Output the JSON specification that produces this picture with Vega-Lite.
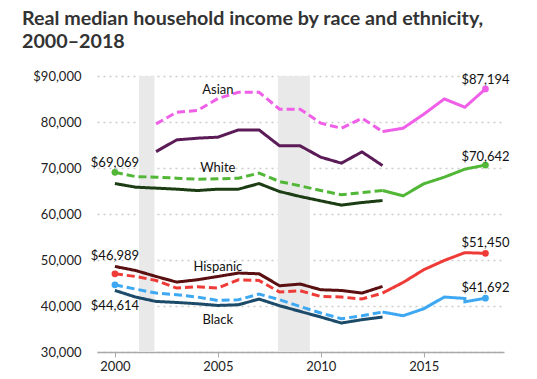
{
  "$schema": "https://vega.github.io/schema/vega-lite/v6.json",
  "width": 407,
  "height": 276,
  "autosize": "none",
  "padding": {"left": 97, "top": 76, "right": 33, "bottom": 27},
  "background": "white",
  "title": {
    "text": ["Real median household income by race and ethnicity,", "2000–2018"],
    "anchor": "start",
    "frame": "group",
    "dx": -75,
    "offset": 18,
    "font": "Lato",
    "fontSize": 19.7,
    "fontWeight": "bold",
    "color": "#333333",
    "lineHeight": 23
  },
  "config": {
    "view": {"stroke": null},
    "font": "Lato",
    "axis": {"labelFont": "Lato", "labelFontSize": 13, "labelColor": "#222222"}
  },
  "datasets": {
    "lines": [
      {"g": "Asian old", "c": "Asian dark", "d": "solid", "year": 2002, "value": 73570},
      {"g": "Asian old", "c": "Asian dark", "d": "solid", "year": 2003, "value": 76110},
      {"g": "Asian old", "c": "Asian dark", "d": "solid", "year": 2004, "value": 76480},
      {"g": "Asian old", "c": "Asian dark", "d": "solid", "year": 2005, "value": 76700},
      {"g": "Asian old", "c": "Asian dark", "d": "solid", "year": 2006, "value": 78280},
      {"g": "Asian old", "c": "Asian dark", "d": "solid", "year": 2007, "value": 78280},
      {"g": "Asian old", "c": "Asian dark", "d": "solid", "year": 2008, "value": 74810},
      {"g": "Asian old", "c": "Asian dark", "d": "solid", "year": 2009, "value": 74810},
      {"g": "Asian old", "c": "Asian dark", "d": "solid", "year": 2010, "value": 72350},
      {"g": "Asian old", "c": "Asian dark", "d": "solid", "year": 2011, "value": 71050},
      {"g": "Asian old", "c": "Asian dark", "d": "solid", "year": 2012, "value": 73500},
      {"g": "Asian old", "c": "Asian dark", "d": "solid", "year": 2013, "value": 70530},
      {"g": "Asian adj", "c": "Asian bright", "d": "dashed", "year": 2002, "value": 79590},
      {"g": "Asian adj", "c": "Asian bright", "d": "dashed", "year": 2003, "value": 82130},
      {"g": "Asian adj", "c": "Asian bright", "d": "dashed", "year": 2004, "value": 82480},
      {"g": "Asian adj", "c": "Asian bright", "d": "dashed", "year": 2005, "value": 85100},
      {"g": "Asian adj", "c": "Asian bright", "d": "dashed", "year": 2006, "value": 86470},
      {"g": "Asian adj", "c": "Asian bright", "d": "dashed", "year": 2007, "value": 86470},
      {"g": "Asian adj", "c": "Asian bright", "d": "dashed", "year": 2008, "value": 82780},
      {"g": "Asian adj", "c": "Asian bright", "d": "dashed", "year": 2009, "value": 82780},
      {"g": "Asian adj", "c": "Asian bright", "d": "dashed", "year": 2010, "value": 79740},
      {"g": "Asian adj", "c": "Asian bright", "d": "dashed", "year": 2011, "value": 78650},
      {"g": "Asian adj", "c": "Asian bright", "d": "dashed", "year": 2012, "value": 80830},
      {"g": "Asian adj", "c": "Asian bright", "d": "dashed", "year": 2013, "value": 77920},
      {"g": "Asian new", "c": "Asian bright", "d": "solid", "year": 2013, "value": 77920},
      {"g": "Asian new", "c": "Asian bright", "d": "solid", "year": 2014, "value": 78650},
      {"g": "Asian new", "c": "Asian bright", "d": "solid", "year": 2015, "value": 81690},
      {"g": "Asian new", "c": "Asian bright", "d": "solid", "year": 2016, "value": 85020},
      {"g": "Asian new", "c": "Asian bright", "d": "solid", "year": 2017, "value": 83210},
      {"g": "Asian new", "c": "Asian bright", "d": "solid", "year": 2018, "value": 87194},

      {"g": "White old", "c": "White dark", "d": "solid", "year": 2000, "value": 66620},
      {"g": "White old", "c": "White dark", "d": "solid", "year": 2001, "value": 65840},
      {"g": "White old", "c": "White dark", "d": "solid", "year": 2002, "value": 65620},
      {"g": "White old", "c": "White dark", "d": "solid", "year": 2003, "value": 65400},
      {"g": "White old", "c": "White dark", "d": "solid", "year": 2004, "value": 65100},
      {"g": "White old", "c": "White dark", "d": "solid", "year": 2005, "value": 65400},
      {"g": "White old", "c": "White dark", "d": "solid", "year": 2006, "value": 65400},
      {"g": "White old", "c": "White dark", "d": "solid", "year": 2007, "value": 66620},
      {"g": "White old", "c": "White dark", "d": "solid", "year": 2008, "value": 64880},
      {"g": "White old", "c": "White dark", "d": "solid", "year": 2009, "value": 63800},
      {"g": "White old", "c": "White dark", "d": "solid", "year": 2010, "value": 62860},
      {"g": "White old", "c": "White dark", "d": "solid", "year": 2011, "value": 61930},
      {"g": "White old", "c": "White dark", "d": "solid", "year": 2012, "value": 62490},
      {"g": "White old", "c": "White dark", "d": "solid", "year": 2013, "value": 62930},
      {"g": "White adj", "c": "White bright", "d": "dashed", "year": 2000, "value": 69069},
      {"g": "White adj", "c": "White bright", "d": "dashed", "year": 2001, "value": 68140},
      {"g": "White adj", "c": "White bright", "d": "dashed", "year": 2002, "value": 68010},
      {"g": "White adj", "c": "White bright", "d": "dashed", "year": 2003, "value": 67790},
      {"g": "White adj", "c": "White bright", "d": "dashed", "year": 2004, "value": 67570},
      {"g": "White adj", "c": "White bright", "d": "dashed", "year": 2005, "value": 67650},
      {"g": "White adj", "c": "White bright", "d": "dashed", "year": 2006, "value": 67790},
      {"g": "White adj", "c": "White bright", "d": "dashed", "year": 2007, "value": 68880},
      {"g": "White adj", "c": "White bright", "d": "dashed", "year": 2008, "value": 67050},
      {"g": "White adj", "c": "White bright", "d": "dashed", "year": 2009, "value": 66120},
      {"g": "White adj", "c": "White bright", "d": "dashed", "year": 2010, "value": 65100},
      {"g": "White adj", "c": "White bright", "d": "dashed", "year": 2011, "value": 64170},
      {"g": "White adj", "c": "White bright", "d": "dashed", "year": 2012, "value": 64670},
      {"g": "White adj", "c": "White bright", "d": "dashed", "year": 2013, "value": 65100},
      {"g": "White new", "c": "White bright", "d": "solid", "year": 2013, "value": 65100},
      {"g": "White new", "c": "White bright", "d": "solid", "year": 2014, "value": 63950},
      {"g": "White new", "c": "White bright", "d": "solid", "year": 2015, "value": 66560},
      {"g": "White new", "c": "White bright", "d": "solid", "year": 2016, "value": 68010},
      {"g": "White new", "c": "White bright", "d": "solid", "year": 2017, "value": 69750},
      {"g": "White new", "c": "White bright", "d": "solid", "year": 2018, "value": 70642},

      {"g": "Hispanic old", "c": "Hispanic dark", "d": "solid", "year": 2000, "value": 48600},
      {"g": "Hispanic old", "c": "Hispanic dark", "d": "solid", "year": 2001, "value": 47720},
      {"g": "Hispanic old", "c": "Hispanic dark", "d": "solid", "year": 2002, "value": 46420},
      {"g": "Hispanic old", "c": "Hispanic dark", "d": "solid", "year": 2003, "value": 45200},
      {"g": "Hispanic old", "c": "Hispanic dark", "d": "solid", "year": 2004, "value": 45700},
      {"g": "Hispanic old", "c": "Hispanic dark", "d": "solid", "year": 2005, "value": 46420},
      {"g": "Hispanic old", "c": "Hispanic dark", "d": "solid", "year": 2006, "value": 47160},
      {"g": "Hispanic old", "c": "Hispanic dark", "d": "solid", "year": 2007, "value": 47010},
      {"g": "Hispanic old", "c": "Hispanic dark", "d": "solid", "year": 2008, "value": 44400},
      {"g": "Hispanic old", "c": "Hispanic dark", "d": "solid", "year": 2009, "value": 44770},
      {"g": "Hispanic old", "c": "Hispanic dark", "d": "solid", "year": 2010, "value": 43530},
      {"g": "Hispanic old", "c": "Hispanic dark", "d": "solid", "year": 2011, "value": 43380},
      {"g": "Hispanic old", "c": "Hispanic dark", "d": "solid", "year": 2012, "value": 42810},
      {"g": "Hispanic old", "c": "Hispanic dark", "d": "solid", "year": 2013, "value": 44250},
      {"g": "Hispanic adj", "c": "Hispanic bright", "d": "dashed", "year": 2000, "value": 46989},
      {"g": "Hispanic adj", "c": "Hispanic bright", "d": "dashed", "year": 2001, "value": 46420},
      {"g": "Hispanic adj", "c": "Hispanic bright", "d": "dashed", "year": 2002, "value": 45550},
      {"g": "Hispanic adj", "c": "Hispanic bright", "d": "dashed", "year": 2003, "value": 43900},
      {"g": "Hispanic adj", "c": "Hispanic bright", "d": "dashed", "year": 2004, "value": 44200},
      {"g": "Hispanic adj", "c": "Hispanic bright", "d": "dashed", "year": 2005, "value": 43900},
      {"g": "Hispanic adj", "c": "Hispanic bright", "d": "dashed", "year": 2006, "value": 45700},
      {"g": "Hispanic adj", "c": "Hispanic bright", "d": "dashed", "year": 2007, "value": 45550},
      {"g": "Hispanic adj", "c": "Hispanic bright", "d": "dashed", "year": 2008, "value": 43030},
      {"g": "Hispanic adj", "c": "Hispanic bright", "d": "dashed", "year": 2009, "value": 43310},
      {"g": "Hispanic adj", "c": "Hispanic bright", "d": "dashed", "year": 2010, "value": 42080},
      {"g": "Hispanic adj", "c": "Hispanic bright", "d": "dashed", "year": 2011, "value": 41950},
      {"g": "Hispanic adj", "c": "Hispanic bright", "d": "dashed", "year": 2012, "value": 41510},
      {"g": "Hispanic adj", "c": "Hispanic bright", "d": "dashed", "year": 2013, "value": 42810},
      {"g": "Hispanic new", "c": "Hispanic bright", "d": "solid", "year": 2013, "value": 42810},
      {"g": "Hispanic new", "c": "Hispanic bright", "d": "solid", "year": 2014, "value": 45120},
      {"g": "Hispanic new", "c": "Hispanic bright", "d": "solid", "year": 2015, "value": 47880},
      {"g": "Hispanic new", "c": "Hispanic bright", "d": "solid", "year": 2016, "value": 49900},
      {"g": "Hispanic new", "c": "Hispanic bright", "d": "solid", "year": 2017, "value": 51600},
      {"g": "Hispanic new", "c": "Hispanic bright", "d": "solid", "year": 2018, "value": 51450},

      {"g": "Black old", "c": "Black dark", "d": "solid", "year": 2000, "value": 43380},
      {"g": "Black old", "c": "Black dark", "d": "solid", "year": 2001, "value": 41950},
      {"g": "Black old", "c": "Black dark", "d": "solid", "year": 2002, "value": 40990},
      {"g": "Black old", "c": "Black dark", "d": "solid", "year": 2003, "value": 40770},
      {"g": "Black old", "c": "Black dark", "d": "solid", "year": 2004, "value": 40490},
      {"g": "Black old", "c": "Black dark", "d": "solid", "year": 2005, "value": 40120},
      {"g": "Black old", "c": "Black dark", "d": "solid", "year": 2006, "value": 40270},
      {"g": "Black old", "c": "Black dark", "d": "solid", "year": 2007, "value": 41510},
      {"g": "Black old", "c": "Black dark", "d": "solid", "year": 2008, "value": 40060},
      {"g": "Black old", "c": "Black dark", "d": "solid", "year": 2009, "value": 38820},
      {"g": "Black old", "c": "Black dark", "d": "solid", "year": 2010, "value": 37600},
      {"g": "Black old", "c": "Black dark", "d": "solid", "year": 2011, "value": 36300},
      {"g": "Black old", "c": "Black dark", "d": "solid", "year": 2012, "value": 37020},
      {"g": "Black old", "c": "Black dark", "d": "solid", "year": 2013, "value": 37600},
      {"g": "Black adj", "c": "Black bright", "d": "dashed", "year": 2000, "value": 44614},
      {"g": "Black adj", "c": "Black bright", "d": "dashed", "year": 2001, "value": 43680},
      {"g": "Black adj", "c": "Black bright", "d": "dashed", "year": 2002, "value": 42810},
      {"g": "Black adj", "c": "Black bright", "d": "dashed", "year": 2003, "value": 42450},
      {"g": "Black adj", "c": "Black bright", "d": "dashed", "year": 2004, "value": 41950},
      {"g": "Black adj", "c": "Black bright", "d": "dashed", "year": 2005, "value": 41210},
      {"g": "Black adj", "c": "Black bright", "d": "dashed", "year": 2006, "value": 41360},
      {"g": "Black adj", "c": "Black bright", "d": "dashed", "year": 2007, "value": 42600},
      {"g": "Black adj", "c": "Black bright", "d": "dashed", "year": 2008, "value": 41360},
      {"g": "Black adj", "c": "Black bright", "d": "dashed", "year": 2009, "value": 39900},
      {"g": "Black adj", "c": "Black bright", "d": "dashed", "year": 2010, "value": 38470},
      {"g": "Black adj", "c": "Black bright", "d": "dashed", "year": 2011, "value": 37230},
      {"g": "Black adj", "c": "Black bright", "d": "dashed", "year": 2012, "value": 37880},
      {"g": "Black adj", "c": "Black bright", "d": "dashed", "year": 2013, "value": 38690},
      {"g": "Black new", "c": "Black bright", "d": "solid", "year": 2013, "value": 38690},
      {"g": "Black new", "c": "Black bright", "d": "solid", "year": 2014, "value": 37880},
      {"g": "Black new", "c": "Black bright", "d": "solid", "year": 2015, "value": 39400},
      {"g": "Black new", "c": "Black bright", "d": "solid", "year": 2016, "value": 41950},
      {"g": "Black new", "c": "Black bright", "d": "solid", "year": 2017, "value": 41640},
      {"g": "Black new", "c": "Black bright", "d": "solid", "year": 2017, "value": 40920},
      {"g": "Black new", "c": "Black bright", "d": "solid", "year": 2018, "value": 41692}
    ],
    "dots": [
      {"c": "White bright", "year": 2000, "value": 69069},
      {"c": "Hispanic bright", "year": 2000, "value": 46989},
      {"c": "Black bright", "year": 2000, "value": 44614},
      {"c": "Asian bright", "year": 2018, "value": 87194},
      {"c": "White bright", "year": 2018, "value": 70642},
      {"c": "Hispanic bright", "year": 2018, "value": 51450},
      {"c": "Black bright", "year": 2018, "value": 41692}
    ],
    "recessions": [
      {"start": 2001.17, "end": 2001.92},
      {"start": 2007.92, "end": 2009.47}
    ],
    "labels": [
      {"text": "Asian", "year": 2005, "value": 86970},
      {"text": "White", "year": 2005, "value": 70030},
      {"text": "Hispanic", "year": 2005, "value": 48530},
      {"text": "Black", "year": 2005, "value": 37020},
      {"text": "$69,069", "year": 2000, "value": 71120},
      {"text": "$46,989", "year": 2000, "value": 50920},
      {"text": "$44,614", "year": 2000, "value": 40060},
      {"text": "$87,194", "year": 2018, "value": 89140},
      {"text": "$70,642", "year": 2018, "value": 72420},
      {"text": "$51,450", "year": 2018, "value": 53740},
      {"text": "$41,692", "year": 2018, "value": 43970}
    ]
  },
  "layer": [
    {
      "data": {"name": "recessions"},
      "mark": {"type": "rect", "color": "#e9e9e9"},
      "encoding": {
        "x": {"field": "start", "type": "quantitative", "scale": {"domain": [1999.13, 2018.9], "nice": false, "zero": false},
          "axis": {"values": [2000, 2005, 2010, 2015], "format": "d", "title": null, "grid": false, "domainColor": "#aaaaaa", "domainWidth": 1.5, "tickColor": "#aaaaaa", "tickSize": 5, "labelPadding": 3}},
        "x2": {"field": "end"}
      }
    },
    {
      "data": {"name": "lines"},
      "mark": {"type": "line", "strokeWidth": 3, "strokeCap": "butt"},
      "encoding": {
        "x": {"field": "year", "type": "quantitative"},
        "y": {"field": "value", "type": "quantitative", "scale": {"domain": [30000, 90000], "nice": false, "zero": false},
          "axis": {"values": [30000, 40000, 50000, 60000, 70000, 80000, 90000], "title": null, "domain": false, "ticks": false, "labelPadding": 16,
            "labelExpr": "datum.value == 90000 ? '$90,000' : format(datum.value, ',')",
            "grid": true, "gridDash": [2, 4], "gridColor": "#cccccc", "gridWidth": 1.5}},
        "color": {"field": "c", "type": "nominal", "legend": null,
          "scale": {"domain": ["Asian dark", "Asian bright", "White dark", "White bright", "Hispanic dark", "Hispanic bright", "Black dark", "Black bright"],
            "range": ["#5a1b56", "#ef5fe8", "#1c3d13", "#52b737", "#5a1010", "#ef3b37", "#1c4a69", "#3ea9f2"]}},
        "strokeDash": {"field": "d", "type": "nominal", "legend": null,
          "scale": {"domain": ["solid", "dashed"], "range": [[1, 0], [8, 4]]}},
        "detail": {"field": "g"},
        "order": {"value": null}
      }
    },
    {
      "data": {"name": "dots"},
      "mark": {"type": "circle", "size": 45, "opacity": 1},
      "encoding": {
        "x": {"field": "year", "type": "quantitative"},
        "y": {"field": "value", "type": "quantitative"},
        "color": {"field": "c", "type": "nominal", "legend": null}
      }
    },
    {
      "data": {"name": "labels"},
      "mark": {"type": "text", "font": "Lato", "fontSize": 13, "color": "#111111", "baseline": "middle", "align": "center"},
      "encoding": {
        "x": {"field": "year", "type": "quantitative"},
        "y": {"field": "value", "type": "quantitative"},
        "text": {"field": "text"}
      }
    }
  ]
}
